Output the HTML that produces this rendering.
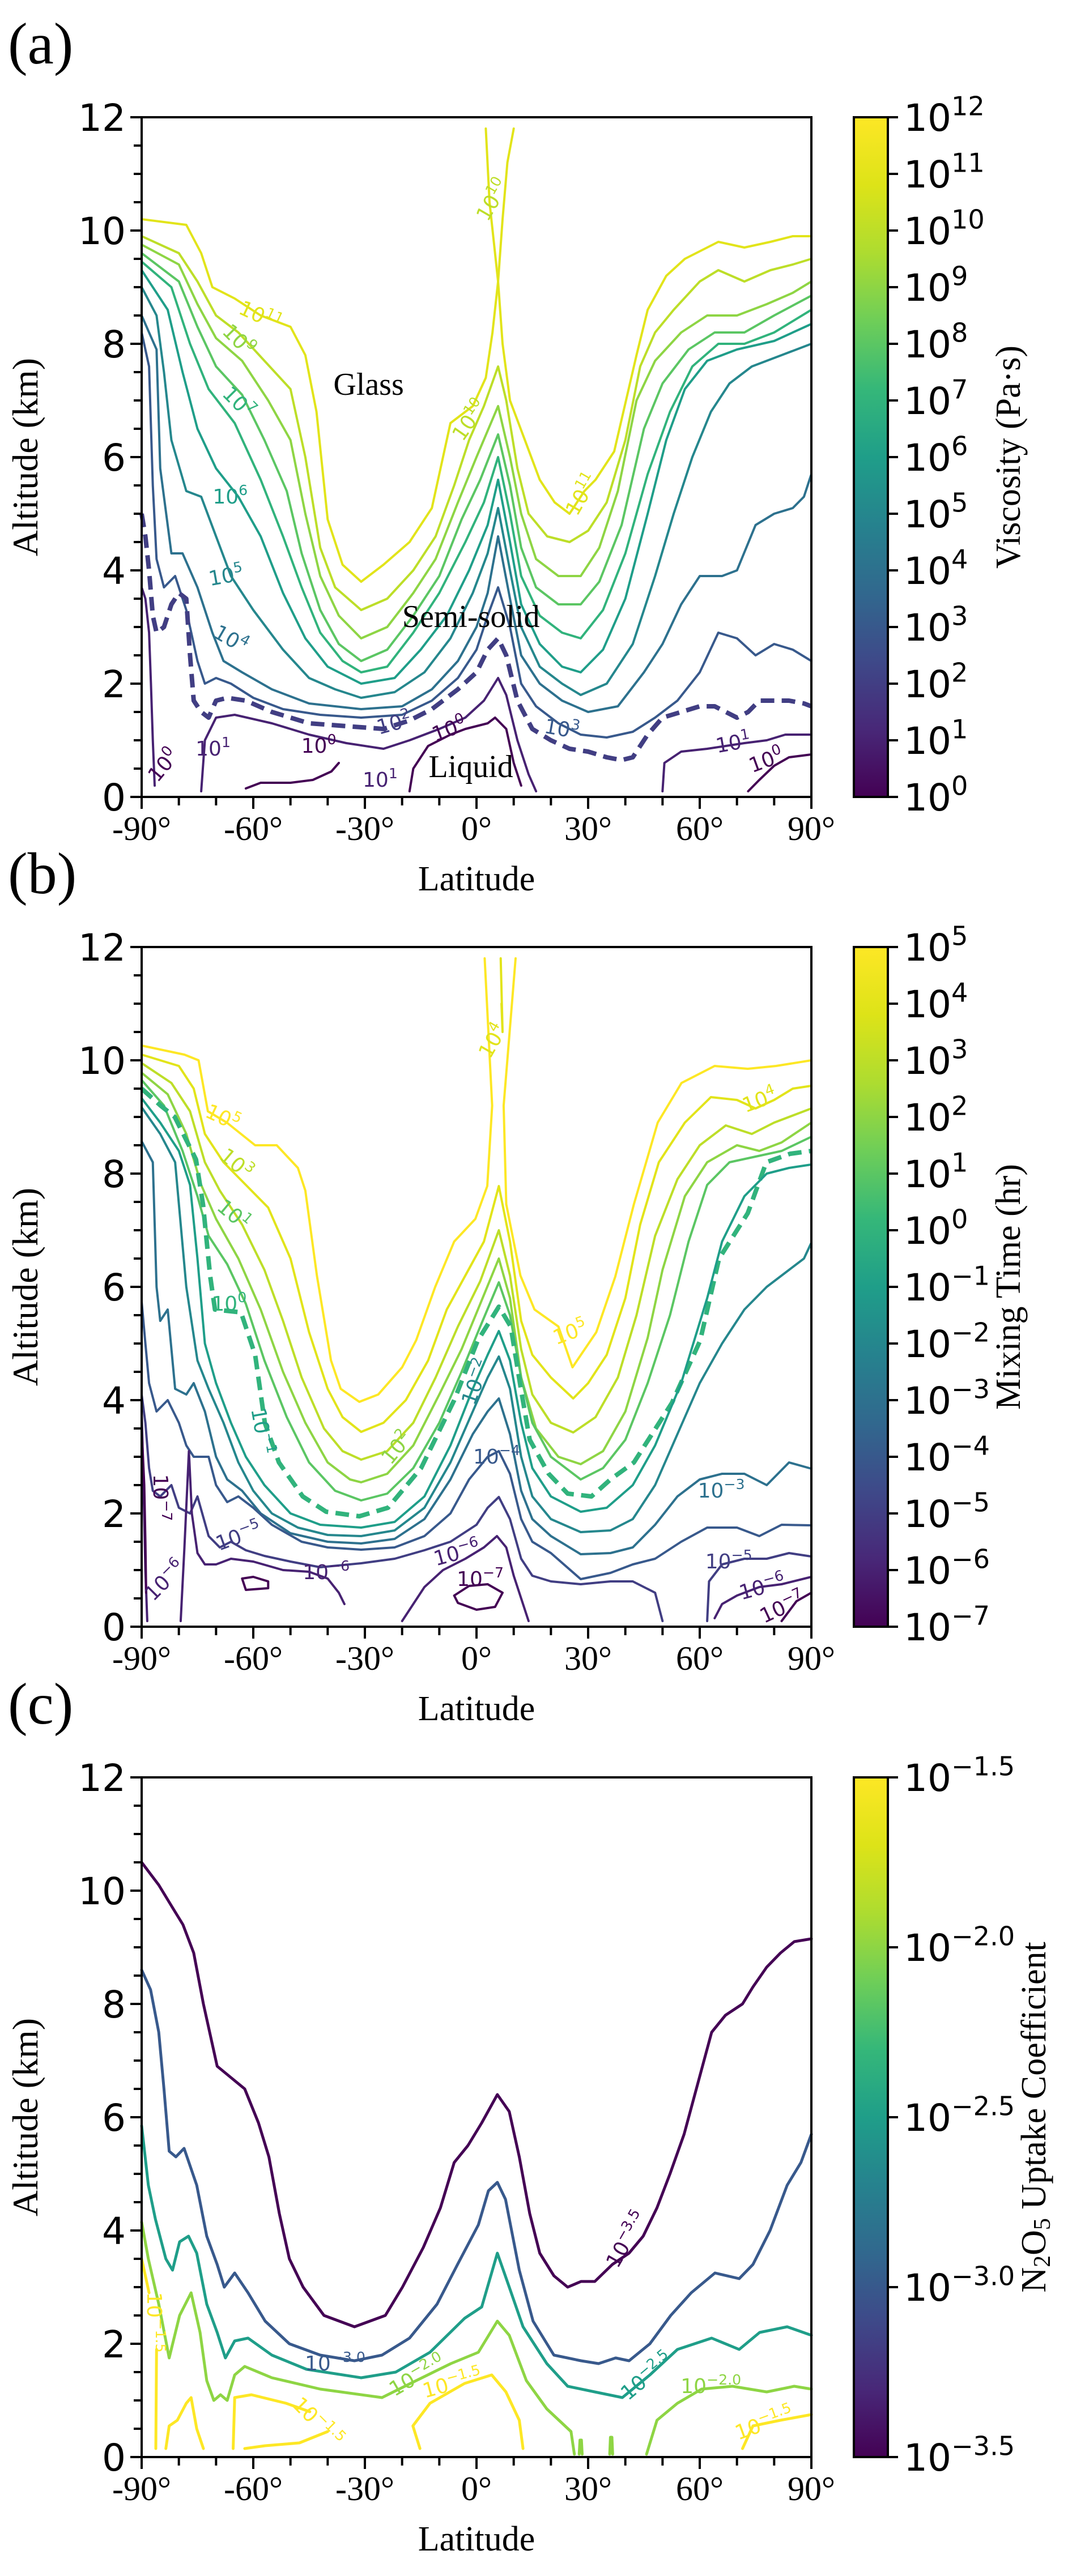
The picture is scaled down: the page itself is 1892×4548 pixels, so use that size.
<!DOCTYPE html>
<html><head><meta charset="utf-8"><title>Viscosity, mixing time and N2O5 uptake</title>
<style>
html,body{margin:0;padding:0;background:#fff;}
svg{display:block;}
.tick{font-family:"DejaVu Sans","Liberation Sans",sans-serif;font-size:66px;fill:#000;}
.serif{font-family:"Liberation Serif","DejaVu Serif",serif;fill:#000;}
.clab{font-family:"DejaVu Sans","Liberation Sans",sans-serif;font-size:36px;}
</style></head>
<body>
<svg id="fig" xmlns="http://www.w3.org/2000/svg" width="1892" height="4548" viewBox="0 0 1892 4548">
<rect x="0" y="0" width="1892" height="4548" fill="#fff"/>
</svg>
<script>
// ---------- DATA: Panel (a) viscosity contours [lat, km] ----------
const aL11 = [[-90,10.2],[-78,10.1],[-74,9.6],[-71,9.0],[-65,8.8],[-58,8.5],[-50,8.3],[-46,7.8],[-43,6.8],[-40,4.9],[-36,4.1],[-31,3.8],[-25,4.1],[-18,4.5],[-12,5.1],[-7,6.6],[-1,6.9],[2.5,7.4],[4.3,8.2],[5.8,9.1],[7,10.2],[8.3,11.2],[10,11.8]];
const aL11b = [[2.5,11.8],[3.5,10.5],[5.8,9.1],[7,8.0],[9,7.0],[13,6.3],[17,5.6],[21,5.2],[25,5.0],[29,5.4],[32,5.6],[37,6.1],[43,7.8],[46,8.6],[51,9.2],[56,9.5],[65,9.8],[72,9.7],[79,9.8],[85,9.9],[90,9.9]];
const aL10 = [[-90,9.9],[-80,9.6],[-75,9.1],[-70,8.5],[-64,8.2],[-57,7.7],[-50,7.2],[-46,6.0],[-42,4.4],[-38,3.7],[-31,3.3],[-24,3.5],[-17,4.0],[-11,4.6],[-6,5.5],[-2,6.3],[2,6.9],[5.8,7.6],[8,7.0],[11,5.8],[14,5.0],[19,4.6],[25,4.5],[30,4.7],[35,5.2],[40,6.3],[44,7.6],[48,8.2],[53,8.6],[60,9.1],[65,9.3],[72,9.1],[79,9.3],[85,9.4],[90,9.5]];
const aL9 = [[-90,9.75],[-80,9.4],[-75,8.7],[-70,8.1],[-63,7.7],[-56,7.0],[-50,6.3],[-46,5.0],[-42,3.9],[-37,3.2],[-31,2.8],[-24,3.0],[-17,3.6],[-11,4.2],[-5,5.2],[0,6.0],[5.8,6.9],[9,6.0],[12,5.0],[16,4.2],[22,3.9],[28,3.9],[33,4.4],[38,5.4],[43,7.0],[48,7.7],[55,8.2],[62,8.5],[70,8.5],[78,8.7],[85,8.9],[90,9.1]];
const aL8 = [[-90,9.6],[-80,9.1],[-75,8.3],[-70,7.6],[-63,7.1],[-57,6.3],[-51,5.4],[-47,4.3],[-42,3.3],[-37,2.7],[-31,2.4],[-24,2.6],[-17,3.2],[-10,3.9],[-4,4.9],[1,5.6],[5.8,6.4],[9,5.5],[12,4.4],[16,3.7],[22,3.4],[28,3.4],[33,3.8],[39,4.8],[45,6.5],[50,7.3],[57,7.9],[64,8.2],[72,8.2],[80,8.5],[90,8.85]];
const aL7 = [[-90,9.45],[-82,9.0],[-77,8.0],[-72,7.2],[-65,6.6],[-58,5.6],[-52,4.6],[-47,3.7],[-42,2.9],[-36,2.4],[-31,2.2],[-24,2.3],[-17,2.9],[-10,3.6],[-3,4.5],[2,5.2],[5.8,6.0],[9,5.0],[12,3.9],[17,3.2],[23,2.9],[28,2.8],[34,3.3],[40,4.3],[46,5.7],[52,6.8],[58,7.6],[65,8.0],[72,8.0],[80,8.2],[90,8.6]];
const aL6 = [[-90,9.3],[-83,8.6],[-79,7.5],[-75,6.5],[-70,5.8],[-64,5.3],[-58,4.6],[-52,3.6],[-46,2.8],[-40,2.3],[-31,2.0],[-22,2.1],[-15,2.6],[-8,3.2],[-2,4.0],[3,4.8],[5.8,5.6],[9,4.5],[12,3.4],[17,2.7],[23,2.3],[28,2.2],[34,2.6],[40,3.5],[46,5.0],[51,6.3],[56,7.2],[62,7.7],[70,7.9],[80,8.05],[90,8.35]];
const aL5 = [[-90,9.0],[-86,8.5],[-84,7.5],[-82,6.3],[-78,5.4],[-74,5.3],[-70,4.6],[-66,3.9],[-60,3.3],[-52,2.6],[-45,2.1],[-38,1.9],[-31,1.75],[-22,1.85],[-14,2.2],[-7,2.8],[-1,3.6],[3,4.3],[5.8,5.1],[9,4.0],[12,3.0],[17,2.3],[23,2.0],[28,1.8],[35,2.0],[42,2.7],[48,3.9],[53,5.0],[58,6.0],[63,6.8],[68,7.3],[74,7.6],[82,7.8],[90,8.0]];
const aL4 = [[-90,8.5],[-88,8.2],[-86,7.9],[-85,5.8],[-82,4.3],[-79,4.3],[-75,3.7],[-71,2.9],[-68,2.4],[-63,2.2],[-55,1.9],[-45,1.65],[-31,1.55],[-20,1.6],[-12,1.9],[-5,2.4],[0,3.0],[3,3.6],[5.8,4.6],[9,3.5],[12,2.5],[17,2.0],[23,1.7],[30,1.5],[38,1.6],[45,2.2],[50,2.7],[55,3.4],[60,3.9],[66,3.9],[70,4.0],[75,4.8],[80,5.0],[85,5.1],[88,5.3],[90,5.7]];
const aL3 = [[-90,8.2],[-88,7.6],[-87,5.5],[-86,4.2],[-84,3.7],[-81,3.9],[-78,3.3],[-75,2.4],[-73,2.0],[-70,2.1],[-66,2.0],[-60,1.75],[-52,1.55],[-42,1.45],[-31,1.4],[-20,1.45],[-12,1.7],[-5,2.1],[0,2.6],[3,3.2],[5.8,3.7],[9,3.0],[12,2.0],[16,1.6],[22,1.3],[28,1.1],[35,1.05],[42,1.15],[48,1.4],[54,1.7],[60,2.2],[65,2.9],[70,2.8],[75,2.5],[80,2.7],[85,2.6],[90,2.4]];
const aL2 = [[-90,5.0],[-89,4.6],[-88,4.0],[-87,3.2],[-86,2.9],[-84,3.0],[-82,3.4],[-80,3.6],[-78,3.5],[-77,2.5],[-76,1.7],[-74,1.5],[-72,1.4],[-70,1.7],[-67,1.75],[-62,1.7],[-55,1.5],[-45,1.3],[-35,1.25],[-25,1.2],[-18,1.35],[-12,1.55],[-5,1.9],[0,2.2],[3,2.6],[5.8,2.8],[8,2.5],[11,1.7],[15,1.2],[20,1.0],[25,0.85],[30,0.8],[35,0.7],[39,0.65],[42,0.7],[46,1.1],[50,1.4],[55,1.5],[60,1.6],[64,1.6],[67,1.5],[70,1.4],[73,1.5],[76,1.7],[80,1.7],[84,1.7],[88,1.65],[90,1.6]];
const aL1 = [[-74,0.1],[-73,1.0],[-70,1.4],[-65,1.45],[-55,1.3],[-45,1.1],[-35,0.95],[-25,0.85],[-18,1.0],[-10,1.2],[-3,1.4],[2,1.7],[5.8,2.1],[8,1.8],[11,1.0],[14,0.4],[16,0.1]];
const aL1b = [[-90,3.7],[-89,3.5],[-88,2.9],[-87.5,2.0],[-87,1.0],[-86.5,0.2]];
const aL1c = [[50,0.1],[50.5,0.6],[55,0.8],[62,0.85],[67,0.9],[72,0.95],[78,1.0],[83,1.1],[90,1.1]];
const aL0 = [[-62,0.15],[-58,0.25],[-50,0.25],[-44,0.3],[-39,0.45],[-37,0.6]];
const aL0b = [[-18,0.1],[-17,0.5],[-13,0.9],[-7,1.1],[-3,1.2],[3,1.3],[5,1.4],[8,1.2],[10,0.6],[12,0.2]];
const aL0c = [[73,0.1],[76,0.3],[80,0.55],[84,0.7],[90,0.75]];
const aSeries = [aL11,aL11b,aL10,aL9,aL8,aL7,aL6,aL5,aL4,aL3,aL2,aL1,aL1b,aL1c,aL0,aL0b,aL0c];
const aSeriesLevels = [11,11,10,9,8,7,6,5,4,3,2,1,1,1,0,0,0];
const aDashedLevel = 2;
const aLabelText = ["11","9","7","6","5","4","2","0","0","1","0","1","10","10","11","3","1","0"];
const aLabelPos = [[-58.9,8.5],[-65.3,8.1],[-65.3,7.0],[-66.2,5.3],[-67,3.9],[-67,2.8],[-21.7,1.3],[-6.7,1.2],[-42.4,0.9],[-25.9,0.3],[-82.7,0.6],[-70.8,0.85],[6,10.6],[-0.3,6.7],[30,5.4],[22.6,1.2],[69.3,0.95],[78.5,0.65]];
const aLabelRot = [25,45,45,0,-10,30,-15,-20,0,0,-50,0,-60,-55,-60,10,-10,-20];
const aCbTicks = ["0","1","2","3","4","5","6","7","8","9","10","11","12"];

// ---------- DATA: Panel (b) mixing-time contours ----------
const bL5 = [[-90,10.26],[-78.5,10.1],[-74.7,10.0],[-72.2,9.1],[-67.1,8.9],[-59.5,8.5],[-53.7,8.5],[-48,8.1],[-46,7.7],[-42.9,6.2],[-39.1,4.7],[-36.5,4.2],[-31.5,3.97],[-26.4,4.1],[-20,4.58],[-16.2,5.06],[-11.1,6.0],[-6,6.8],[-0.3,7.2],[2.9,7.78],[4.2,9.2],[2.2,11.8]];
const bL5b = [[10.5,11.8],[7.3,9.2],[8,7.46],[11.8,6.2],[15.6,5.6],[22,5.3],[25.8,4.58],[32.2,5.2],[37.3,6.18],[42.3,7.46],[48.7,8.9],[55.1,9.6],[64,9.9],[72.9,9.85],[80.5,9.9],[90,10.0]];
const bL4 = [[-90,10.1],[-80,9.9],[-76,9.5],[-73,8.7],[-68,8.2],[-62,7.8],[-56,7.4],[-50,6.5],[-45,5.2],[-40,4.2],[-36,3.7],[-31,3.44],[-25,3.6],[-19,4.0],[-13,4.7],[-8,5.6],[-3,6.2],[2,6.8],[6,7.78],[9,6.8],[12,5.4],[15,4.8],[20,4.4],[26,4.03],[30,4.3],[35,4.8],[40,5.8],[44,7.1],[49,8.2],[56,8.9],[63,9.35],[70,9.3],[75,9.15],[80,9.3],[85,9.5],[90,9.55]];
const bL4b = [[6.5,11.8],[7,10.5],[6.7,11.0]];
const bL3 = [[-90,9.95],[-82,9.6],[-77,9.1],[-73,8.2],[-69,7.7],[-63,7.1],[-57,6.3],[-52,5.4],[-47,4.4],[-41,3.5],[-36,3.1],[-31,2.95],[-24,3.1],[-17,3.6],[-11,4.4],[-5,5.3],[1,6.1],[6,7.0],[9,6.2],[12,4.9],[15,4.1],[20,3.6],[26,3.43],[32,3.7],[38,4.4],[43,5.5],[48,6.9],[54,7.9],[60,8.5],[67,8.85],[74,8.7],[80,8.9],[86,9.05],[90,9.15]];
const bL2 = [[-90,9.78],[-83,9.4],[-78,8.7],[-74,7.8],[-70,7.2],[-64,6.5],[-58,5.6],[-52,4.5],[-46,3.6],[-40,2.9],[-34,2.6],[-31,2.55],[-24,2.7],[-17,3.2],[-10,4.1],[-4,4.9],[1,5.7],[6,6.5],[9,5.8],[12,4.4],[16,3.5],[22,3.0],[28,2.87],[34,3.1],[40,3.8],[46,5.1],[50,6.3],[56,7.6],[62,8.2],[70,8.5],[76,8.4],[82,8.55],[90,8.9]];
const bL1 = [[-90,9.65],[-84,9.2],[-79,8.4],[-75,7.6],[-72,6.9],[-67,6.4],[-62,5.7],[-57,4.7],[-51,3.7],[-45,2.9],[-38,2.4],[-31,2.23],[-24,2.35],[-17,2.8],[-10,3.6],[-4,4.5],[1,5.3],[6,6.08],[9,5.5],[12,4.4],[15,3.6],[20,3.0],[28,2.6],[34,2.8],[40,3.3],[46,4.3],[52,5.5],[57,6.8],[62,7.8],[68,8.2],[75,8.3],[82,8.4],[90,8.65]];
const bL0 = [[-90,9.5],[-84.9,9.2],[-81.1,9.0],[-75.4,8.25],[-73.5,7.45],[-71.6,6.2],[-70.3,5.6],[-63.3,5.55],[-59.5,4.8],[-56.9,3.6],[-53.1,2.9],[-46.7,2.3],[-40.4,2.03],[-31.5,1.95],[-23.8,2.1],[-14.9,2.8],[-6,4.0],[0.3,5.05],[6,5.65],[9.2,5.3],[11.8,4.25],[14.3,3.3],[19.4,2.7],[24.5,2.35],[30.9,2.3],[36,2.6],[42.3,2.9],[52.5,3.95],[60.1,5.05],[65.2,6.5],[72.9,7.3],[77.9,8.2],[84.3,8.35],[90,8.4]];
const bLm1 = [[-90,9.33],[-85,8.9],[-80,8.4],[-77,7.8],[-75,6.5],[-73,5.0],[-70,4.3],[-66,3.6],[-62,3.0],[-57,2.5],[-50,2.0],[-42,1.8],[-31,1.75],[-22,1.85],[-14,2.3],[-7,3.2],[-1,4.2],[3,4.8],[6,5.22],[9,4.7],[12,3.6],[15,2.8],[20,2.3],[28,2.03],[35,2.1],[42,2.5],[48,3.2],[55,4.3],[62,5.8],[66,6.8],[72,7.6],[78,8.0],[84,8.1],[90,8.16]];
const bLm2 = [[-90,9.17],[-85,8.7],[-81,8.2],[-78,6.0],[-75,4.7],[-72,4.2],[-68,3.6],[-64,2.9],[-60,2.4],[-55,2.0],[-48,1.75],[-40,1.62],[-31,1.6],[-22,1.7],[-14,2.1],[-7,2.9],[-1,3.8],[3,4.4],[6,4.77],[9,4.2],[12,3.0],[15,2.3],[20,1.9],[28,1.67],[36,1.7],[42,1.9],[48,2.5],[54,3.4],[60,4.3],[66,5.0],[72,5.6],[78,6.0],[84,6.3],[88,6.5],[90,6.78]];
const bLm3 = [[-90,8.57],[-87,8.2],[-86,6.0],[-85,5.4],[-83,5.6],[-81,4.2],[-78,4.1],[-76,4.3],[-73,3.8],[-70,3.0],[-67,2.6],[-63,2.4],[-58,2.0],[-50,1.65],[-40,1.5],[-31,1.47],[-22,1.55],[-14,1.9],[-7,2.6],[-1,3.4],[3,3.8],[6,4.03],[9,3.4],[12,2.4],[15,1.9],[20,1.6],[28,1.28],[36,1.3],[42,1.4],[48,1.8],[54,2.3],[60,2.6],[66,2.7],[72,2.7],[78,2.5],[84,2.9],[90,2.79]];
const bLm4 = [[-90,5.74],[-89,5.0],[-88,4.3],[-86,3.8],[-83,4.0],[-80,3.6],[-78,3.2],[-76,3.0],[-72,3.0],[-70,2.5],[-67,2.2],[-64,2.3],[-60,2.1],[-55,1.8],[-47,1.5],[-40,1.4],[-31,1.36],[-22,1.4],[-14,1.6],[-7,2.0],[-2,2.6],[3,3.0],[6,3.1],[9,2.7],[12,1.9],[15,1.5],[20,1.3],[28,0.84],[36,0.95],[42,1.1],[48,1.2],[55,1.5],[62,1.75],[70,1.75],[76,1.6],[82,1.8],[90,1.79]];
const bLm5 = [[-90,4.1],[-89,3.6],[-88,2.8],[-87,2.4],[-85,2.3],[-82,2.5],[-80,2.1],[-77,2.0],[-75,2.3],[-72,1.6],[-69,1.4],[-66,1.5],[-62,1.35],[-57,1.25],[-50,1.15],[-42,1.05],[-31,1.12],[-22,1.2],[-14,1.35],[-7,1.5],[0,1.8],[3,2.1],[6,2.29],[9,1.9],[12,1.2],[15,0.9],[20,0.8],[28,0.75],[36,0.8],[42,0.8],[48,0.6],[50,0.1]];
const bLm5b = [[62,0.1],[62.5,0.8],[66,1.1],[72,1.2],[78,1.2],[84,1.3],[90,1.24]];
const bLm6 = [[-90,3.83],[-89.5,2.5],[-89,1.0],[-88.5,0.1]];
const bLm6b = [[-79.5,0.1],[-78.5,1.4],[-77.3,3.1],[-76.5,2.0],[-75,1.3],[-73,1.1],[-70,1.1],[-66,1.2],[-60,1.15],[-52,1.0],[-45,0.97],[-40,0.85],[-37,0.6],[-35.5,0.4]];
const bLm6c = [[-20,0.1],[-17,0.4],[-14,0.7],[-9,1.0],[-3,1.2],[2,1.4],[5.5,1.6],[8,1.4],[10,0.9],[12,0.5],[14,0.1]];
const bLm6d = [[64,0.15],[66,0.4],[70,0.55],[76,0.7],[82,0.75],[90,0.88]];
const bLm7 = [[-63,0.85],[-60,0.88],[-56,0.8],[-56,0.68],[-62,0.65],[-63,0.85]];
const bLm7b = [[-6,0.55],[-2,0.72],[3,0.75],[7,0.6],[5,0.35],[0,0.3],[-5,0.42],[-6,0.55]];
const bLm7c = [[-90,3.5],[-89.3,2.5],[-89,1.5],[-88.8,0.6]];
const bLm7d = [[82,0.1],[86,0.45],[90,0.6]];
const bSeries = [bL5,bL5b,bL4,bL4b,bL3,bL2,bL1,bL0,bLm1,bLm2,bLm3,bLm4,bLm5,bLm5b,bLm6,bLm6b,bLm6c,bLm6d,bLm7,bLm7b,bLm7c,bLm7d];
const bSeriesLevels = [5,5,4,4,3,2,1,0,-1,-2,-3,-4,-5,-5,-6,-6,-6,-6,-7,-7,-7,-7];
const bDashedLevel = 0;
const bLabelText = ["5","3","1","0","−1","−7","−5","−6","−6","−7","−6","−4","−2","2","4","5","4","−3","−5","−6","−7"];
const bLabelPos = [[-69,9.0],[-65.8,8.2],[-66.5,7.3],[-66.5,5.7],[-59.5,3.55],[-86.8,2.4],[-63.3,1.6],[-82.4,0.85],[-40.4,0.96],[1,0.84],[-4.8,1.3],[5.4,3.0],[1.6,4.4],[-20,3.2],[6,10.4],[25.8,5.2],[76.7,9.3],[65.8,2.4],[67.8,1.15],[77.3,0.7],[83,0.35]];
const bLabelRot = [25,40,40,0,80,90,-20,-45,0,0,-15,0,-70,-50,-60,-20,-20,0,0,-15,-25];
const bCbTicks = ["−7","−6","−5","−4","−3","−2","−1","0","1","2","3","4","5"];

// ---------- DATA: Panel (c) N2O5 uptake contours ----------
const cM35 = [[-90,10.5],[-85.4,10.1],[-81.7,9.7],[-78.9,9.4],[-76,8.9],[-73.4,8.0],[-69.7,6.9],[-66,6.7],[-62.3,6.5],[-58.6,5.9],[-55.8,5.3],[-53,4.3],[-50.3,3.5],[-46.6,3.0],[-41,2.5],[-32.8,2.3],[-24.5,2.5],[-19.9,3.0],[-14.3,3.7],[-9.7,4.4],[-6,5.2],[-2.3,5.5],[1.4,5.9],[5.6,6.4],[8.8,6.1],[11.5,5.3],[14.3,4.3],[17,3.6],[20.8,3.2],[24.5,3.0],[28.1,3.1],[31.8,3.1],[36.5,3.4],[41,3.6],[44.8,3.9],[48.5,4.4],[52,5.0],[55.8,5.7],[59.5,6.6],[63.2,7.5],[66.9,7.8],[71.5,8.0],[74.3,8.3],[78,8.65],[81.7,8.9],[85.4,9.1],[90,9.15]];
const cM30 = [[-90,8.6],[-87.6,8.25],[-85.4,7.5],[-84,6.5],[-82.6,5.4],[-80.8,5.3],[-78.6,5.45],[-75.2,4.8],[-72.5,3.9],[-69.7,3.4],[-67.8,3.0],[-65,3.25],[-61.4,2.9],[-56.8,2.4],[-50.3,2.0],[-42,1.8],[-32.8,1.7],[-25.4,1.8],[-18,2.1],[-10.6,2.7],[-5.1,3.4],[0.5,4.1],[3.2,4.7],[5.6,4.85],[7.8,4.55],[11.5,3.3],[15.2,2.4],[20.8,1.8],[28.1,1.7],[32.8,1.65],[37.4,1.75],[41,1.7],[46.6,2.0],[52.2,2.5],[57.7,2.9],[64.1,3.25],[70.6,3.15],[74.3,3.4],[78.9,4.0],[83.5,4.8],[87.2,5.2],[90,5.7]];
const cM25 = [[-90,5.85],[-88.2,4.8],[-86.3,4.2],[-83.5,3.5],[-81.7,3.3],[-79.8,3.8],[-77.4,3.9],[-75.2,3.6],[-72.5,2.7],[-69.7,2.2],[-67.5,1.75],[-65,2.05],[-61.4,2.1],[-55,1.8],[-45.7,1.55],[-31,1.4],[-21.7,1.5],[-12.5,1.85],[-3.2,2.45],[1.4,2.65],[5.6,3.6],[8.8,3.0],[12.5,2.3],[18.9,1.65],[24.5,1.25],[31.8,1.15],[39.2,1.05],[46.6,1.45],[54,1.9],[63.2,2.1],[70.6,1.9],[76.1,2.2],[83.5,2.3],[90,2.15]];
const cM20 = [[-90,4.15],[-88.2,3.5],[-85.4,2.7],[-82.6,1.75],[-79.8,2.5],[-76.7,2.9],[-74.3,2.2],[-72.5,1.35],[-70.6,1.0],[-68.8,1.1],[-67,1.0],[-65,1.45],[-62.3,1.6],[-55,1.4],[-42,1.2],[-25.4,1.05],[-16.2,1.35],[-6.9,1.65],[0.5,1.85],[5.6,2.4],[8.8,2.15],[13.4,1.35],[18.9,0.85],[25.4,0.45],[26.3,0.05]];
const cM20b = [[45.7,0.05],[48.5,0.65],[54,0.95],[60.5,1.2],[68.8,1.25],[78,1.15],[85.4,1.25],[90,1.2]];
const cM20c = [[27.6,0.05],[27.8,0.3],[28.2,0.3],[28.4,0.05]];
const cM20d = [[35.8,0.05],[36,0.35],[36.4,0.35],[36.6,0.05]];
const cM15 = [[-90,3.5],[-89,3.2],[-88,2.9]];
const cM15b = [[-86,1.9],[-86.2,0.15]];
const cM15c = [[-83.5,0.15],[-82.6,0.55],[-80.4,0.65],[-78,0.95],[-76.7,1.05],[-75.2,0.5],[-73.4,0.15]];
const cM15d = [[-65.4,0.15],[-65,1.05],[-60.5,1.1],[-51.2,0.95],[-44.8,0.8]];
const cM15e = [[-62.3,0.15],[-56.8,0.2],[-47.6,0.25],[-40,0.45]];
const cM15f = [[-15.2,0.15],[-17.1,0.55],[-12.5,0.95],[-3.2,1.3],[4.1,1.45],[7.9,1.15],[11.5,0.65],[12.5,0.15]];
const cM15g = [[71.5,0.15],[74.3,0.55],[81.7,0.65],[90,0.75]];
const cSeries = [cM35,cM30,cM25,cM20,cM20b,cM20c,cM20d,cM15,cM15b,cM15c,cM15d,cM15e,cM15f,cM15g];
const cSeriesLevels = [-3.5,-3.0,-2.5,-2.0,-2.0,-2.0,-2.0,-1.5,-1.5,-1.5,-1.5,-1.5,-1.5,-1.5];
const cLabelText = ["−3.0","−2.5","−2.0","−1.5","−1.5","−2.0","−1.5","−3.5","−1.5"];
const cLabelLevel = [-3.0,-2.5,-2.0,-1.5,-1.5,-2.0,-1.5,-3.5,-1.5];
const cLabelPos = [[-38,1.65],[47,1.45],[-15,1.45],[-6,1.3],[-44,0.65],[63,1.25],[78,0.6],[42,3.9],[-88.5,2.5]];
const cLabelRot = [0,-40,-30,-15,45,0,-20,-60,90];
const cCbTicks = ["−3.5","−3.0","−2.5","−2.0","−1.5"];

// ---------- LAYOUT ----------
const svg = document.getElementById('fig');
const NS = 'http://www.w3.org/2000/svg';
const X0 = 250, X1 = 1432, H = 1200;
const tops = [207, 1672, 3138];
const CBX = 1507, CBW = 60;

function mk(tag, parent) { const e = document.createElementNS(NS, tag); parent.appendChild(e); return e; }
function xs(lat) { return X0 + (lat + 90) / 180 * (X1 - X0); }
function ys(top, km) { return top + H - km / 12 * H; }

const vStops = ['#440154','#482878','#3e4989','#31688e','#26828e','#1f9e89','#35b779','#6ece58','#addc30','#dde318','#fde725'];
function hex2rgb(h) { return [1,3,5].map(i => parseInt(h.substr(i,2),16)); }
function viridis(t) {
  t = Math.max(0, Math.min(1, t));
  const p = t * 10, i = Math.min(9, Math.floor(p)), f = p - i;
  const a = hex2rgb(vStops[i]), b = hex2rgb(vStops[i+1]);
  return 'rgb(' + a.map((v,k) => Math.round(v + (b[k]-v)*f)).join(',') + ')';
}

const defs = mk('defs', svg);
const grad = mk('linearGradient', defs);
grad.setAttribute('id', 'vir');
grad.setAttribute('x1', '0'); grad.setAttribute('y1', '1'); grad.setAttribute('x2', '0'); grad.setAttribute('y2', '0');
vStops.forEach((c, i) => { const s = mk('stop', grad); s.setAttribute('offset', (i/10).toString()); s.setAttribute('stop-color', c); });

function addText(parent, x, y, base, sup, size, cls, anchor, rot, color) {
  const t = mk('text', parent);
  t.setAttribute('x', x); t.setAttribute('y', y);
  t.setAttribute('class', cls);
  t.setAttribute('font-size', size);
  if (anchor) t.setAttribute('text-anchor', anchor);
  if (color) t.setAttribute('fill', color);
  if (rot) t.setAttribute('transform', 'rotate(' + rot + ' ' + x + ' ' + y + ')');
  t.appendChild(document.createTextNode(base));
  if (sup !== null && sup !== undefined) {
    const s = mk('tspan', t);
    s.setAttribute('dy', (-size*0.42).toFixed(1));
    s.setAttribute('font-size', (size*0.7).toFixed(1));
    s.textContent = sup;
  }
  return t;
}

function drawPanel(idx, letter, series, levels, colorOf, dashedLevel, lw, labelsText, labelsPos, labelsRot, labelColor, cbTicks, cbTitle, cbTitleX) {
  const top = tops[idx];
  const g = mk('g', svg);
  
  

  const pl = mk('text', g);
  pl.setAttribute('x', 14); pl.setAttribute('y', top - 95);
  pl.setAttribute('class', 'serif'); pl.setAttribute('font-size', '104');
  pl.textContent = '(' + letter + ')';
  
  

  const cg = mk('g', g);
  
  
  series.forEach((pts, i) => {
    const p = mk('path', cg);
    p.setAttribute('d', pts.map((q, j) => (j ? 'L' : 'M') + xs(q[0]).toFixed(1) + ' ' + ys(top, q[1]).toFixed(1)).join(' '));
    p.setAttribute('fill', 'none');
    p.setAttribute('stroke', colorOf(levels[i]));
    p.setAttribute('stroke-linejoin', 'round');
    p.setAttribute('stroke-linecap', 'round');
    if (levels[i] === dashedLevel) {
      p.setAttribute('stroke-width', lw + 4);
      p.setAttribute('stroke-dasharray', '24 13');
      p.setAttribute('stroke-linecap', 'butt');
    } else {
      p.setAttribute('stroke-width', lw);
    }
    
    
  });

  labelsText.forEach((s, i) => {
    const x = xs(labelsPos[i][0]), y = ys(top, labelsPos[i][1]);
    const t = addText(cg, x, y + 12, '10', s, 36, 'clab', 'middle', labelsRot[i], labelColor(i));
    
    
  });

  const fr = mk('rect', g);
  fr.setAttribute('x', X0); fr.setAttribute('y', top); fr.setAttribute('width', X1 - X0); fr.setAttribute('height', H);
  fr.setAttribute('fill', 'none'); fr.setAttribute('stroke', '#000'); fr.setAttribute('stroke-width', '4');
  
  

  const yt = mk('g', g);
  
  
  for (let k = 0; k <= 24; k++) {
    const km = k * 0.5, y = ys(top, km), major = (k % 4 === 0);
    const l = mk('line', yt);
    l.setAttribute('x1', X0); l.setAttribute('x2', X0 - (major ? 20 : 14));
    l.setAttribute('y1', y); l.setAttribute('y2', y);
    l.setAttribute('stroke', '#000'); l.setAttribute('stroke-width', '4');
    if (major) {
      const t = addText(yt, X0 - 28, y + 24, String(km), null, 66, 'tick', 'end', 0, null);
      
      
    }
  }
  const yl = mk('text', yt);
  yl.setAttribute('class', 'serif'); yl.setAttribute('font-size', '64');
  yl.setAttribute('text-anchor', 'middle');
  yl.setAttribute('transform', 'translate(66 ' + (top + H/2) + ') rotate(-90)');
  yl.textContent = 'Altitude (km)';
  
  

  const xt = mk('g', g);
  
  
  for (let lat = -90; lat <= 90; lat += 10) {
    const x = xs(lat), major = (lat % 30 === 0), yb = top + H;
    const l = mk('line', xt);
    l.setAttribute('x1', x); l.setAttribute('x2', x);
    l.setAttribute('y1', yb); l.setAttribute('y2', yb + (major ? 21 : 15));
    l.setAttribute('stroke', '#000'); l.setAttribute('stroke-width', '4');
    if (major) {
      const t = mk('text', xt);
      t.setAttribute('x', x); t.setAttribute('y', yb + 76);
      t.setAttribute('class', 'serif'); t.setAttribute('font-size', '60');
      t.setAttribute('text-anchor', 'middle');
      t.textContent = lat + '°';
      
      
    }
  }
  const xl = mk('text', xt);
  xl.setAttribute('x', (X0 + X1)/2); xl.setAttribute('y', top + H + 165);
  xl.setAttribute('class', 'serif'); xl.setAttribute('font-size', '62');
  xl.setAttribute('text-anchor', 'middle');
  xl.textContent = 'Latitude';
  
  

  const cb = mk('g', g);
  
  
  const cr = mk('rect', cb);
  cr.setAttribute('x', CBX); cr.setAttribute('y', top); cr.setAttribute('width', CBW); cr.setAttribute('height', H);
  cr.setAttribute('fill', 'url(#vir)'); cr.setAttribute('stroke', '#000'); cr.setAttribute('stroke-width', '4');
  
  
  const n = cbTicks.length;
  cbTicks.forEach((s, i) => {
    const y = top + H - i / (n - 1) * H;
    const l = mk('line', cb);
    l.setAttribute('x1', CBX + CBW); l.setAttribute('x2', CBX + CBW + 18);
    l.setAttribute('y1', y); l.setAttribute('y2', y);
    l.setAttribute('stroke', '#000'); l.setAttribute('stroke-width', '4');
    const t = addText(cb, CBX + CBW + 28, y + 24, '10', s, 66, 'tick', 'start', 0, null);
    
    
  });
  const ct = mk('text', cb);
  ct.setAttribute('class', 'serif'); ct.setAttribute('font-size', '62');
  ct.setAttribute('text-anchor', 'middle');
  ct.setAttribute('transform', 'translate(' + cbTitleX + ' ' + (top + H/2) + ') rotate(-90)');
  ct.innerHTML = cbTitle;
  
  
  return g;
}

const gA = drawPanel(0, 'a', aSeries, aSeriesLevels, L => viridis(L / 12), aDashedLevel, 4,
  aLabelText, aLabelPos, aLabelRot,
  i => viridis((parseFloat(aLabelText[i])) / 12), aCbTicks, 'Viscosity (Pa·s)', 1800);
const gB = drawPanel(1, 'b', bSeries, bSeriesLevels, L => viridis((L + 7) / 12), bDashedLevel, 4,
  bLabelText, bLabelPos, bLabelRot,
  i => viridis((parseFloat(bLabelText[i].replace('−','-')) + 7) / 12), bCbTicks, 'Mixing Time (hr)', 1800);
const gC = drawPanel(2, 'c', cSeries, cSeriesLevels, L => viridis((L + 3.5) / 2), null, 5,
  cLabelText, cLabelPos, cLabelRot,
  i => viridis((cLabelLevel[i] + 3.5) / 2), cCbTicks, 'N<tspan font-size="42" dy="8">2</tspan><tspan dy="-8">O</tspan><tspan font-size="42" dy="8">5</tspan><tspan dy="-8"> Uptake Coefficient</tspan>', 1845);

const phaseText = ['Glass', 'Semi-solid', 'Liquid'];
const phasePos = [[-29, 7.1], [-1.5, 3.0], [-1.5, 0.35]];
phaseText.forEach((s, i) => {
  const t = mk('text', gA);
  t.setAttribute('x', xs(phasePos[i][0])); t.setAttribute('y', ys(tops[0], phasePos[i][1]));
  t.setAttribute('class', 'serif'); t.setAttribute('font-size', '56');
  t.setAttribute('text-anchor', 'middle');
  t.textContent = s;
  
  
});
</script>
</body></html>
